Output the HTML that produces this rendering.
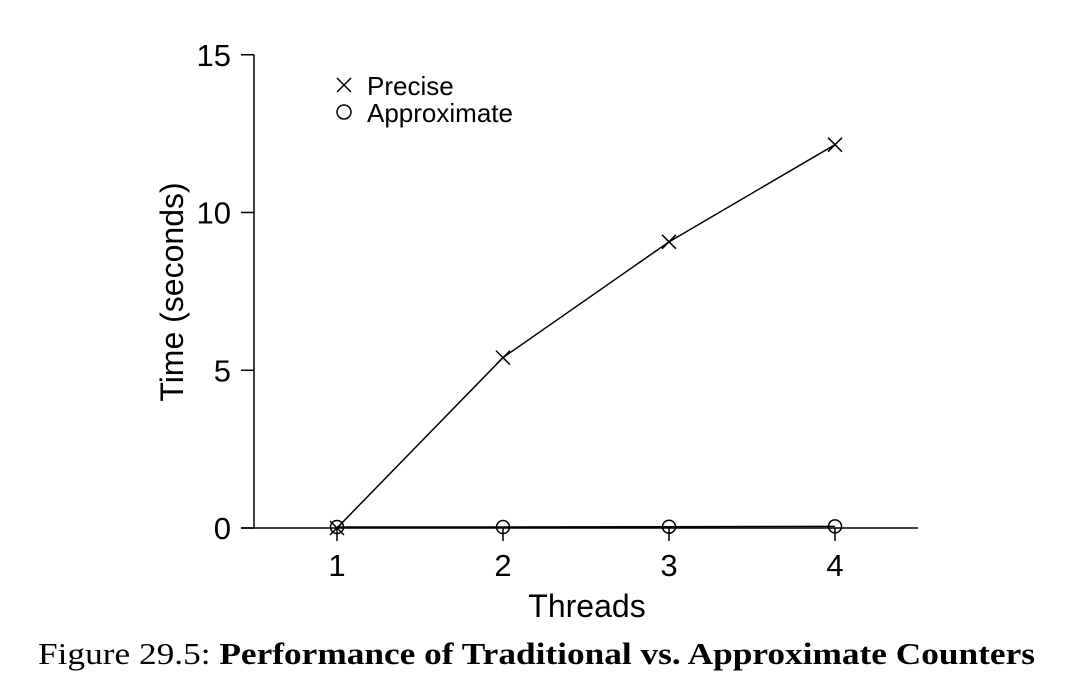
<!DOCTYPE html>
<html><head><meta charset="utf-8"><style>
html,body{margin:0;padding:0;background:#fff;width:1074px;height:689px;overflow:hidden}
svg text{font-family:"Liberation Sans",sans-serif}
</style></head><body>
<svg id="chart" width="1074" height="689" xmlns="http://www.w3.org/2000/svg">
<g id="axes"></g>
<g id="marks"></g>
<g>
<g>
<path d="M337 78 L351 92 M351 78 L337 92" stroke="#000" stroke-width="1.5"/>
<text x="367" y="95" font-size="26">Precise</text></g>
<g>
<circle cx="344" cy="112" r="7" fill="none" stroke="#000" stroke-width="1.5"/>
<text x="367" y="122" font-size="26">Approximate</text></g>
</g>
<text x="587" y="617" font-size="32" text-anchor="middle">Threads</text>
<text transform="translate(183,292) rotate(-90)" font-size="32" text-anchor="middle">Time (seconds)</text>
<text x="38" y="664" font-size="31" textLength="997" lengthAdjust="spacingAndGlyphs" style="font-family:'Liberation Serif',serif">Figure 29.5: <tspan font-weight="bold">Performance of Traditional vs. Approximate Counters</tspan></text>
</svg>
<script>
const categories=[1,2,3,4];
const preciseValues=[0,5.4,9.07,12.15];
const approxValues=[0.03,0.03,0.04,0.05];
const yTicks=[0,5,10,15];
const NS="http://www.w3.org/2000/svg";
const x=v=>337+(v-1)*166;
const y=v=>528-v*31.55;
function mk(tag,attrs,parent){const e=document.createElementNS(NS,tag);for(const k in attrs)e.setAttribute(k,attrs[k]);parent.appendChild(e);return e;}
const axes=document.getElementById('axes'),marks=document.getElementById('marks');
let a=mk('line',{x1:254,y1:y(15),x2:254,y2:528,stroke:'#000','stroke-width':1.5},axes);


a=mk('line',{x1:241,y1:528,x2:918,y2:528,stroke:'#000','stroke-width':1.5},axes);


yTicks.forEach(t=>{
 const l=mk('line',{x1:241,y1:y(t),x2:254,y2:y(t),stroke:'#000','stroke-width':1.5},axes);
 
 
 const tx=mk('text',{x:231,y:y(t)+11,'font-size':31,'text-anchor':'end'},axes);tx.textContent=t;
 
 
});
categories.forEach(c=>{
 const l=mk('line',{x1:x(c),y1:528,x2:x(c),y2:541,stroke:'#000','stroke-width':1.5},axes);
 
 
 const tx=mk('text',{x:x(c),y:576,'font-size':31,'text-anchor':'middle'},axes);tx.textContent=c;
 
 
});
function series(vals,name){
 const p=mk('polyline',{points:vals.map((v,i)=>x(categories[i])+','+y(v)).join(' '),fill:'none',stroke:'#000','stroke-width':1.5},marks);
 
 
}
series(preciseValues,'precise');
series(approxValues,'approximate');
preciseValues.forEach((v,i)=>{
 const cx=x(categories[i]),cy=y(v);
 const m=mk('path',{d:`M${cx-7} ${cy-7} L${cx+7} ${cy+7} M${cx+7} ${cy-7} L${cx-7} ${cy+7}`,stroke:'#000','stroke-width':1.5},marks);
 
 
});
approxValues.forEach((v,i)=>{
 const m=mk('circle',{cx:x(categories[i]),cy:y(v),r:6.5,fill:'none',stroke:'#000','stroke-width':1.5},marks);
 
 
});
</script>
</body></html>
